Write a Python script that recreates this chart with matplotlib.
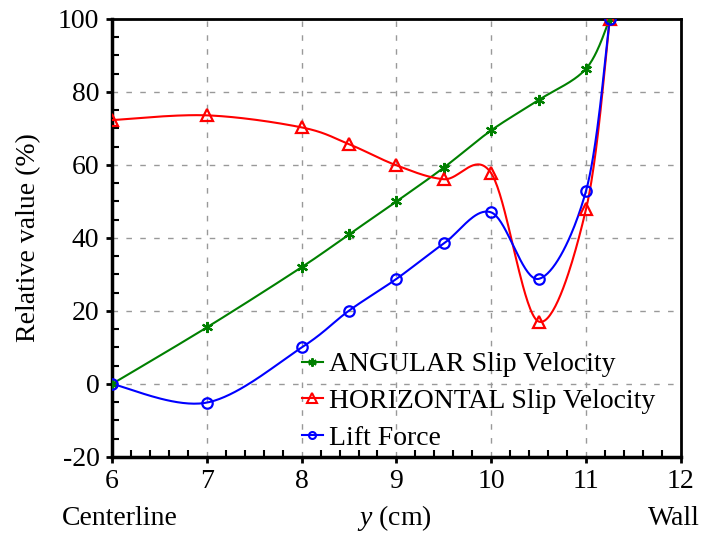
import numpy as np
import matplotlib
matplotlib.use("Agg")
import matplotlib.pyplot as plt
from matplotlib.ticker import MultipleLocator

x_vals = [6, 7, 8, 8.5, 9, 9.5, 10, 10.5, 11, 11.25]
angular = [0, 15.5, 32, 41, 50, 59.3, 69.5, 77.8, 86.4, 100]
horizontal = [72.3, 73.6, 70.3, 65.7, 59.9, 56.1, 57.7, 17.1, 48, 100]
lift = [0, -5.1, 10, 20.1, 28.8, 38.5, 47, 28.8, 53, 100]
labels = ["ANGULAR Slip Velocity", "HORIZONTAL Slip Velocity", "Lift Force"]
colors = ["#008000", "#ff0000", "#0000ff"]
markers = [(6, 2, 0), "^", "o"]
msizes = [8, 9, 7.5]
leg_msizes = [6, 6.5, 5]

plt.rcParams['font.family'] = ['Liberation Serif', 'DejaVu Serif']
plt.rcParams['mathtext.fontset'] = 'custom'
plt.rcParams['mathtext.it'] = 'Liberation Serif:italic'
plt.rcParams['mathtext.rm'] = 'Liberation Serif'
plt.rcParams['axes.unicode_minus'] = False

FS = 20


def smooth(xs, ys, n=40):
    P = np.column_stack([xs, ys]).astype(float)
    m = len(P)
    out = []
    for i in range(m - 1):
        p0 = P[i - 1] if i > 0 else P[i]
        p1 = P[i]
        p2 = P[i + 1]
        p3 = P[i + 2] if i + 2 < m else P[i + 1]
        c1 = p1 + (p2 - p0) / 6.0
        c2 = p2 - (p3 - p1) / 6.0
        t = np.linspace(0, 1, n)[:, None]
        seg = ((1 - t) ** 3) * p1 + 3 * ((1 - t) ** 2) * t * c1 + 3 * (1 - t) * t ** 2 * c2 + t ** 3 * p2
        out.append(seg if i == 0 else seg[1:])
    seg = np.vstack(out)
    return seg[:, 0], seg[:, 1]


fig = plt.figure(figsize=(7.02, 5.33), dpi=100)
ax = fig.add_axes([0.1595, 0.1426, 0.8105, 0.8218])

series = [angular, horizontal, lift]
handles = []
for ys, c, mk, ms, lms, lab in zip(series, colors, markers, msizes, leg_msizes, labels):
    sx, sy = smooth(x_vals, ys)
    ax.plot(sx, sy, color=c, lw=1.5, zorder=3)
    ax.plot(x_vals, ys, linestyle='none', marker=mk, color=c, mfc='none',
            mec=c, ms=ms, mew=1.6, zorder=4)
    h, = ax.plot([], [], color=c, lw=1.5, marker=mk, mfc='none', mec=c, ms=lms, mew=1.5)
    handles.append(h)

ax.set_xlim(6, 12)
ax.set_ylim(-20, 100)
ax.xaxis.set_major_locator(MultipleLocator(1))
ax.xaxis.set_minor_locator(MultipleLocator(0.2))
ax.yaxis.set_major_locator(MultipleLocator(20))
ax.yaxis.set_minor_locator(MultipleLocator(5))
ax.tick_params(which='major', direction='out', length=4, width=2, labelsize=FS, pad=5)
ax.tick_params(which='minor', direction='in', length=5, width=1.5)
ax.grid(True, which='major', color='#999999', linestyle=(0, (4, 6)), lw=1)
for s in ['left', 'bottom']:
    ax.spines[s].set_linewidth(2.5)
for s in ['top', 'right']:
    ax.spines[s].set_linewidth(2)

ax.set_ylabel("Relative value (%)", fontsize=FS, va='center')
ax.yaxis.set_label_coords((29 - 112) / 569, 0.5)
ax.set_xlabel(r"$y$ (cm)", fontsize=FS, va='baseline')
ax.xaxis.set_label_coords(0.497, (457 - 525) / 438)
fig.text(62 / 702, 1 - 525 / 533, "Centerline", fontsize=FS, va='baseline', ha='left')
fig.text(700 / 702, 1 - 525 / 533, "Wall", fontsize=FS, va='baseline', ha='right')

ax.legend(handles, labels, loc='upper left', bbox_to_anchor=(302 / 702, 1 - 352 / 533),
          bbox_transform=fig.transFigure, frameon=False, fontsize=FS,
          handlelength=0.75, handletextpad=0.22, labelspacing=0.4,
          borderaxespad=0, borderpad=0)

fig.savefig("out.png", dpi=100)
